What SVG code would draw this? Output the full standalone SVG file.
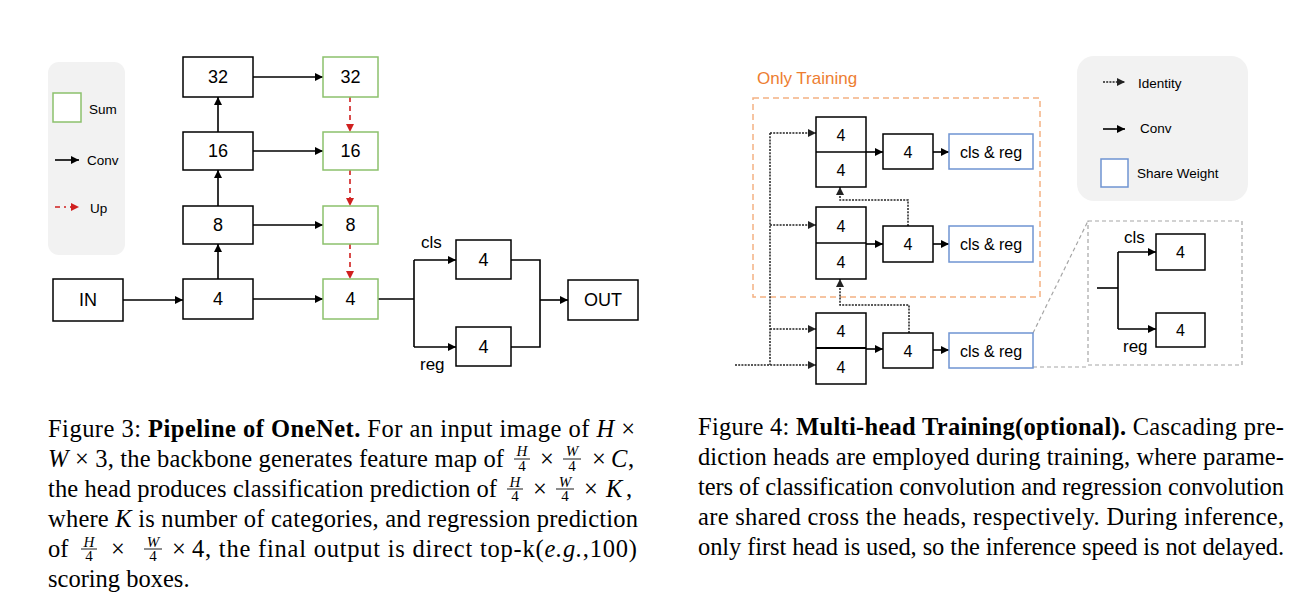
<svg xmlns="http://www.w3.org/2000/svg" width="1308" height="614" viewBox="0 0 1308 614">
<style>
.box{fill:#fff;stroke:#000;stroke-width:1.5}
.sum{fill:#fff;stroke:#8cc16c;stroke-width:1.5}
.share{fill:#fff;stroke:#6f94d2;stroke-width:1.5}
.panel{fill:#f2f2f2;stroke:none}
.t18{font-family:"Liberation Sans",Arial,sans-serif;font-size:18px;text-anchor:middle;dominant-baseline:central}
.t16{font-family:"Liberation Sans",Arial,sans-serif;font-size:16px;text-anchor:middle;dominant-baseline:central}
.t17{font-family:"Liberation Sans",Arial,sans-serif;font-size:17px}
.leg{font-family:"Liberation Sans",Arial,sans-serif;font-size:13.5px}
.conn{fill:none;stroke:#000;stroke-width:1.6}
.up{fill:none;stroke:#d0201f;stroke-width:1.6;stroke-dasharray:5 4}
.idl{fill:none;stroke:#222;stroke-width:1.5;stroke-dasharray:2 1.2}
.gdash{fill:none;stroke:#a6a6a6;stroke-width:1.2;stroke-dasharray:4 3}
.odash{fill:none;stroke:#f4b183;stroke-width:1.5;stroke-dasharray:6 4}
.cap{font-family:"Liberation Serif","Times New Roman",serif;font-size:24.5px;fill:#000}
.frac{font-family:"Liberation Serif","Times New Roman",serif;font-size:15px;text-anchor:middle}
.bar{stroke:#000;stroke-width:0.9}
</style>
<defs>
<marker id="ab" markerUnits="userSpaceOnUse" markerWidth="9" markerHeight="8" refX="8" refY="4" orient="auto"><path d="M0,0 L8,4 L0,8 z" fill="#000"/></marker>
<marker id="ar" markerUnits="userSpaceOnUse" markerWidth="9" markerHeight="8" refX="8" refY="4" orient="auto"><path d="M0,0 L8,4 L0,8 z" fill="#d0201f"/></marker>
<marker id="ad" markerUnits="userSpaceOnUse" markerWidth="9" markerHeight="8" refX="8" refY="4" orient="auto"><path d="M0,0 L8,4 L0,8 z" fill="#222"/></marker>
</defs>
<rect width="1308" height="614" fill="#fff"/>

<!-- Figure 3 legend -->
<g id="legend3">
<rect class="panel" x="48" y="62" width="77" height="193" rx="11"/>
<rect class="sum" x="53" y="93" width="28" height="29"/>
<text class="leg" x="89" y="114">Sum</text>
<path class="conn" d="M55,160 H79" marker-end="url(#ab)"/>
<text class="leg" x="87" y="165">Conv</text>
<path class="up" d="M55,207 H66" stroke-dasharray="6 4"/>
<path class="up" d="M70,207 H79" stroke-dasharray="none" marker-end="url(#ar)"/>
<text class="leg" x="90" y="213">Up</text>
</g>

<g id="fig3-connectors">
<path class="conn" d="M123,300 H183" marker-end="url(#ab)"/>
<path class="conn" d="M253,299 H323" marker-end="url(#ab)"/>
<path class="conn" d="M253,225 H323" marker-end="url(#ab)"/>
<path class="conn" d="M253,151 H323" marker-end="url(#ab)"/>
<path class="conn" d="M253,77 H323" marker-end="url(#ab)"/>
<path class="conn" d="M218,279 V244" marker-end="url(#ab)"/>
<path class="conn" d="M218,206 V170" marker-end="url(#ab)"/>
<path class="conn" d="M218,132 V97" marker-end="url(#ab)"/>
<path class="up" d="M350,97 V132" marker-end="url(#ar)"/>
<path class="up" d="M350,170 V206" marker-end="url(#ar)"/>
<path class="up" d="M350,244 V279" marker-end="url(#ar)"/>
<path class="conn" d="M378,299 H414"/>
<path class="conn" d="M414,260 V347"/>
<path class="conn" d="M414,260 H456" marker-end="url(#ab)"/>
<path class="conn" d="M414,347 H456" marker-end="url(#ab)"/>
<path class="conn" d="M511,260 H540 V347 H511"/>
<path class="conn" d="M540,300 H568" marker-end="url(#ab)"/>
</g>

<g id="in"><rect class="box" x="53" y="279" width="70" height="42"/><text class="t18" x="88" y="300">IN</text></g>
<g id="b4"><rect class="box" x="183" y="279" width="70" height="40"/><text class="t18" x="218" y="299">4</text></g>
<g id="b8"><rect class="box" x="183" y="206" width="70" height="38"/><text class="t18" x="218" y="225">8</text></g>
<g id="b16"><rect class="box" x="183" y="132" width="70" height="38"/><text class="t18" x="218" y="151">16</text></g>
<g id="b32"><rect class="box" x="183" y="57" width="70" height="40"/><text class="t18" x="218" y="77">32</text></g>
<g id="s32"><rect class="sum" x="323" y="57" width="55" height="40"/><text class="t18" x="350.5" y="77">32</text></g>
<g id="s16"><rect class="sum" x="323" y="132" width="55" height="38"/><text class="t18" x="350.5" y="151">16</text></g>
<g id="s8"><rect class="sum" x="323" y="206" width="55" height="38"/><text class="t18" x="350.5" y="225">8</text></g>
<g id="s4"><rect class="sum" x="323" y="279" width="55" height="40"/><text class="t18" x="350.5" y="299">4</text></g>
<g id="cls"><rect class="box" x="456" y="240" width="55" height="39"/><text class="t18" x="483.5" y="260">4</text><text class="t17" x="421" y="248">cls</text></g>
<g id="reg"><rect class="box" x="456" y="327" width="55" height="39"/><text class="t18" x="483.5" y="347">4</text><text class="t17" x="420" y="370">reg</text></g>
<g id="out"><rect class="box" x="568" y="280" width="70" height="40"/><text class="t18" x="603" y="300">OUT</text></g>

<!-- Figure 4 -->
<g id="only-training">
<rect class="odash" x="753" y="98" width="287" height="199"/>
<text x="757" y="84" style="font-family:'Liberation Sans',Arial,sans-serif;font-size:17px;fill:#ed7d31">Only Training</text>
</g>

<g id="fig4-connectors">
<path class="idl" d="M770,133 V365"/>
<path class="idl" d="M770,133 H816" marker-end="url(#ad)"/>
<path class="idl" d="M770,225 H816" marker-end="url(#ad)"/>
<path class="idl" d="M770,329 H816" marker-end="url(#ad)"/>
<path class="idl" d="M735,365 H816" marker-end="url(#ad)"/>
<path class="idl" d="M908,226 V200 H840 V187" marker-end="url(#ad)"/>
<path class="idl" d="M909,333 V305 H840 V279" marker-end="url(#ad)"/>
<path class="conn" d="M866,152 H883" marker-end="url(#ab)"/>
<path class="conn" d="M866,244 H883" marker-end="url(#ab)"/>
<path class="conn" d="M866,349 H883" marker-end="url(#ab)"/>
<path class="conn" d="M933,152 H949" marker-end="url(#ab)"/>
<path class="conn" d="M933,244 H949" marker-end="url(#ab)"/>
<path class="conn" d="M933,350 H949" marker-end="url(#ab)"/>
<path class="gdash" d="M1033,333 L1088,221"/>
<path class="gdash" d="M1033,367 H1088"/>
<path class="conn" d="M1097,288 H1118"/>
<path class="conn" d="M1118,252 V329"/>
<path class="conn" d="M1118,252 H1156" marker-end="url(#ab)"/>
<path class="conn" d="M1118,329 H1156" marker-end="url(#ab)"/>
</g>

<g id="stack1"><rect class="box" x="816" y="117" width="50" height="70"/><line x1="816" y1="152" x2="866" y2="152" stroke="#000" stroke-width="1.6"/><text class="t16" x="841" y="135">4</text><text class="t16" x="841" y="170">4</text></g>
<g id="conv1"><rect class="box" x="883" y="134" width="50" height="35"/><text class="t16" x="908" y="152">4</text></g>
<g id="cr1"><rect class="share" x="949" y="134" width="84" height="35"/><text class="t16" x="991" y="152">cls &amp; reg</text></g>

<g id="stack2"><rect class="box" x="816" y="207" width="50" height="72"/><line x1="816" y1="243" x2="866" y2="243" stroke="#000" stroke-width="1.6"/><text class="t16" x="841" y="226">4</text><text class="t16" x="841" y="262">4</text></g>
<g id="conv2"><rect class="box" x="883" y="226" width="50" height="36"/><text class="t16" x="908" y="244">4</text></g>
<g id="cr2"><rect class="share" x="949" y="226" width="84" height="36"/><text class="t16" x="991" y="244">cls &amp; reg</text></g>

<g id="stack3"><rect class="box" x="816" y="313" width="50" height="71"/><line x1="816" y1="348" x2="866" y2="348" stroke="#000" stroke-width="2"/><text class="t16" x="841" y="331">4</text><text class="t16" x="841" y="367">4</text></g>
<g id="conv3"><rect class="box" x="883" y="333" width="50" height="35"/><text class="t16" x="908" y="351">4</text></g>
<g id="cr3"><rect class="share" x="949" y="333" width="84" height="35"/><text class="t16" x="991" y="351">cls &amp; reg</text></g>

<g id="legend4">
<rect class="panel" x="1077" y="56" width="171" height="145" rx="17"/>
<path class="idl" d="M1103,82 H1125" marker-end="url(#ad)"/>
<text class="leg" x="1138" y="88">Identity</text>
<path class="conn" d="M1103,129 H1125" marker-end="url(#ab)"/>
<text class="leg" x="1140" y="133">Conv</text>
<rect class="share" x="1101" y="159" width="27" height="28"/>
<text class="leg" x="1137" y="178">Share Weight</text>
</g>

<g id="inset">
<rect class="gdash" x="1088" y="221" width="154" height="144"/>
<rect class="box" x="1156" y="234" width="49" height="36"/><text class="t16" x="1180.5" y="252">4</text>
<rect class="box" x="1156" y="313" width="49" height="34"/><text class="t16" x="1180.5" y="330">4</text>
<text class="t17" x="1124" y="243">cls</text>
<text class="t17" x="1123" y="352">reg</text>
</g>

<!-- Captions -->
<g id="caption3">
<text class="cap" x="48" y="437" textLength="587" lengthAdjust="spacing">Figure 3: <tspan font-weight="bold">Pipeline of OneNet.</tspan> For an input image of <tspan font-style="italic">H</tspan> ×</text>
<text class="cap" x="48" y="467" font-style="italic">W</text>
<text class="cap" x="75" y="467" textLength="429" lengthAdjust="spacing">× 3, the backbone generates feature map of</text>
<text class="frac" x="522" y="456" font-style="italic">H</text><line class="bar" x1="514" y1="459" x2="530" y2="459"/><text class="frac" x="522" y="470.5">4</text>
<text class="cap" x="547" y="467" text-anchor="middle">×</text>
<text class="frac" x="572" y="456" font-style="italic">W</text><line class="bar" x1="563" y1="459" x2="581" y2="459"/><text class="frac" x="572" y="470.5">4</text>
<text class="cap" x="599" y="467" text-anchor="middle">×</text>
<text class="cap" x="611" y="467" font-style="italic">C</text>
<text class="cap" x="628" y="467">,</text>

<text class="cap" x="48" y="497" textLength="449" lengthAdjust="spacing">the head produces classification prediction of</text>
<text class="frac" x="515" y="486.5" font-style="italic">H</text><line class="bar" x1="507" y1="489" x2="523" y2="489"/><text class="frac" x="515" y="500.5">4</text>
<text class="cap" x="540" y="497" text-anchor="middle">×</text>
<text class="frac" x="565" y="486.5" font-style="italic">W</text><line class="bar" x1="556" y1="489" x2="574" y2="489"/><text class="frac" x="565" y="500.5">4</text>
<text class="cap" x="591" y="497" text-anchor="middle">×</text>
<text class="cap" x="606" y="497" font-style="italic">K</text>
<text class="cap" x="626" y="497">,</text>

<text class="cap" x="48" y="527" textLength="590" lengthAdjust="spacing">where <tspan font-style="italic">K</tspan> is number of categories, and regression prediction</text>

<text class="cap" x="48" y="557">of</text>
<text class="frac" x="89" y="546.5" font-style="italic">H</text><line class="bar" x1="81" y1="549" x2="97" y2="549"/><text class="frac" x="89" y="560.5">4</text>
<text class="cap" x="118" y="557" text-anchor="middle">×</text>
<text class="frac" x="153" y="546.5" font-style="italic">W</text><line class="bar" x1="144" y1="549" x2="162" y2="549"/><text class="frac" x="153" y="560.5">4</text>
<text class="cap" x="179" y="557" text-anchor="middle">×</text>
<text class="cap" x="192" y="557" textLength="445" lengthAdjust="spacing">4, the final output is direct top-k(<tspan font-style="italic">e.g.</tspan>,100)</text>

<text class="cap" x="48" y="587">scoring boxes.</text>
</g>

<g id="caption4">
<text class="cap" x="698" y="435" textLength="586" lengthAdjust="spacing">Figure 4: <tspan font-weight="bold">Multi-head Training(optional).</tspan> Cascading pre-</text>
<text class="cap" x="698" y="465" textLength="586" lengthAdjust="spacing">diction heads are employed during training, where parame-</text>
<text class="cap" x="698" y="495" textLength="586" lengthAdjust="spacing">ters of classification convolution and regression convolution</text>
<text class="cap" x="698" y="525" textLength="586" lengthAdjust="spacing">are shared cross the heads, respectively. During inference,</text>
<text class="cap" x="698" y="555" textLength="586" lengthAdjust="spacing">only first head is used, so the inference speed is not delayed.</text>
</g>
</svg>
